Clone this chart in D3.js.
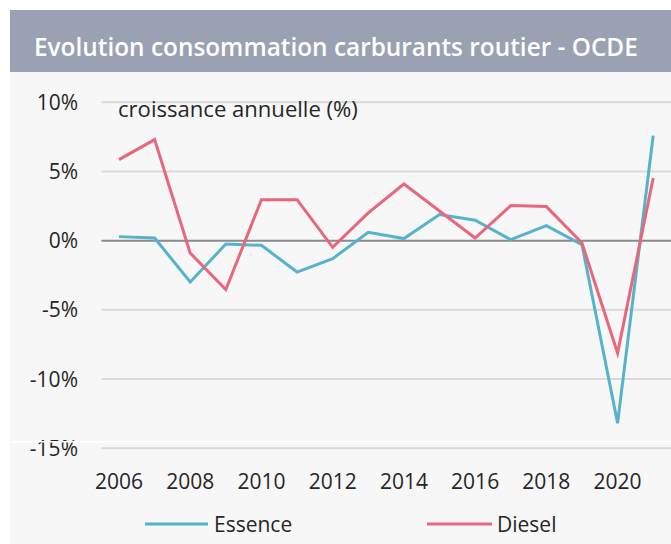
<!DOCTYPE html>
<html><head><meta charset="utf-8">
<script src="https://cdn.jsdelivr.net/npm/d3@7"></script>
<style>html,body{margin:0;padding:0;background:#fff;}svg{display:block;}</style>
</head><body>
<svg id="c" width="671" height="544"></svg>
<script>
const years = [2006,2007,2008,2009,2010,2011,2012,2013,2014,2015,2016,2017,2018,2019,2020,2021];
const essence = [0.29,0.19,-2.99,-0.24,-0.34,-2.27,-1.3,0.6,0.15,1.88,1.47,0.07,1.08,-0.29,-13.18,7.59];
const diesel = [5.85,7.3,-0.9,-3.54,2.96,2.96,-0.48,2.0,4.09,2.14,0.19,2.53,2.46,-0.17,-8.12,4.52];
const yTicks = [10,5,0,-5,-10,-15];
const xTickLabels = ["2006","2008","2010","2012","2014","2016","2018","2020"];
const seriesNames = ["Essence","Diesel"];
const colors = ["#56b3cc","#e8677d"];
const title = "Evolution consommation carburants routier - OCDE";
const yTitle = "croissance annuelle (%)";

const svg = d3.select("#c");
const font = "'Open Sans', sans-serif";

function fitText(sel, base, target){
  sel.attr("font-size", base);
  const w = sel.node().getComputedTextLength();
  if (w > 0) sel.attr("font-size", (base * target / w).toFixed(2));
}

svg.append("rect").attr("x",10).attr("y",10).attr("width",661).attr("height",534).attr("fill","#f7f7f7");
svg.append("rect").attr("x",10).attr("y",10).attr("width",661).attr("height",62).attr("fill","#9aa1b3");
const t = svg.append("text").attr("x",34).attr("y",56).attr("fill","#fff")
  .attr("font-family",font).attr("font-weight",600).text(title);
fitText(t, 27, 604);

const xb = d3.scaleBand().domain(years).range([101.2,671]);
const x = d => xb(d) + xb.bandwidth()/2;
const y = d3.scaleLinear().domain([-15,10]).range([448.3,102.2]);

// gridlines
svg.append("g").selectAll("line").data(yTicks).join("line")
  .attr("x1",101.5).attr("x2",671).attr("y1",d=>y(d)).attr("y2",d=>y(d))
  .attr("stroke",d=>d===0?"#8a8a8a":"#d9d9d9").attr("stroke-width",2);

// y labels
svg.append("g").selectAll("text").data(yTicks).join("text")
  .attr("x",78).attr("y",d=>y(d)).attr("dy","0.36em").attr("text-anchor","end")
  .attr("font-family",font).attr("font-size",21).attr("fill","#262626")
  .text(d=>d+"%");

// y title
const yt = svg.append("text").attr("x",118).attr("y",117).attr("font-family",font)
  .attr("fill","#262626").text(yTitle);
fitText(yt, 21, 240);

// x labels
svg.append("g").selectAll("text").data(xTickLabels).join("text")
  .attr("x",d=>x(+d)).attr("y",481).attr("dy","0.36em").attr("text-anchor","middle")
  .attr("font-family",font).attr("font-size",21).attr("fill","#262626").text(d=>d);

// lines
const line = d3.line().x((d,i)=>x(years[i])).y(d=>y(d));
[essence,diesel].forEach((s,k)=>{
  svg.append("path").datum(s).attr("d",line).attr("fill","none")
    .attr("stroke",colors[k]).attr("stroke-width",3).attr("stroke-linejoin","miter");
});

// white artifact line
svg.append("rect").attr("x",0).attr("y",441).attr("width",671).attr("height",1.5).attr("fill","#ffffff");

// legend
const leg = [{x1:145,x2:208,tx:214},{x1:427,x2:492,tx:497}];
leg.forEach((l,k)=>{
  svg.append("line").attr("x1",l.x1).attr("x2",l.x2).attr("y1",524).attr("y2",524)
    .attr("stroke",colors[k]).attr("stroke-width",3);
  svg.append("text").attr("x",l.tx).attr("y",524).attr("dy","0.36em")
    .attr("font-family",font).attr("font-size",21).attr("fill","#262626").text(seriesNames[k]);
});
</script>
</body></html>
